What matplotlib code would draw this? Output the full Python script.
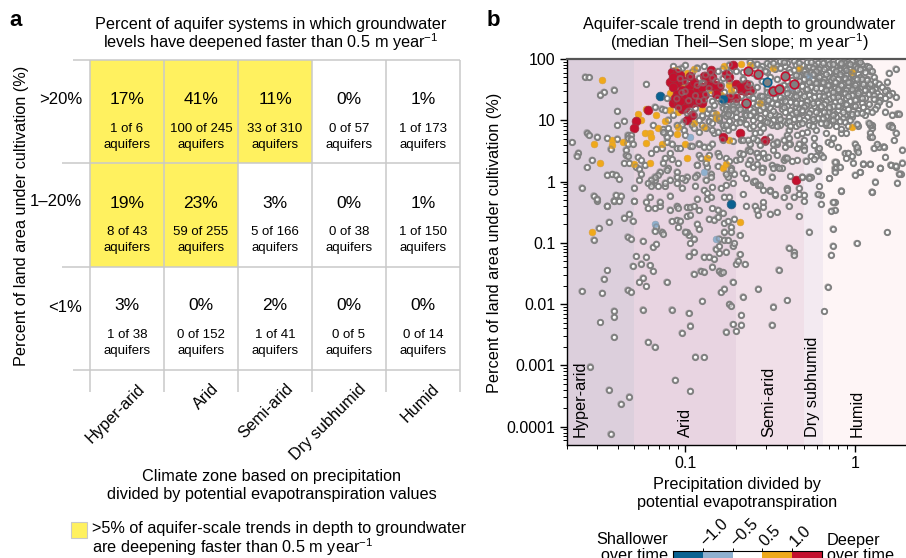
import numpy as np
import matplotlib
matplotlib.use("Agg")
import matplotlib.pyplot as plt
from matplotlib.colors import ListedColormap

plt.rcParams['font.family'] = ['Liberation Sans', 'DejaVu Sans']
plt.rcParams['mathtext.fontset'] = 'custom'
plt.rcParams['mathtext.rm'] = 'Liberation Sans'
plt.rcParams['mathtext.default'] = 'regular'

zones = ['Hyper-arid', 'Arid', 'Semi-arid', 'Dry subhumid', 'Humid']
rows = ['>20%', '1–20%', '<1%']
pct = [[17, 41, 11, 0, 1], [19, 23, 3, 0, 1], [3, 0, 2, 0, 0]]
deep = [[1, 100, 33, 0, 1], [8, 59, 5, 0, 1], [1, 0, 1, 0, 0]]
total = [[6, 245, 310, 57, 173], [43, 255, 166, 38, 150], [38, 152, 41, 5, 14]]

zone_edges = [0.02, 0.05, 0.2, 0.5, 0.65, 2.0]
zone_colors = ['#DCCFDC', '#E8D4E1', '#F0DFE8', '#F3EAF1', '#FEF5F6']
zone_label_x = [0.024, 0.1, 0.312, 0.566, 1.03]

gray_lx = [
 -1.51,-1.54,-1.45,-1.36,-1.33,-1.31,-1.34,-1.32,-1.46,-1.29,
 -1.31,-1.26,-1.23,-1.21,-1.19,-1.25,-1.19,-1.17,-1.46,-1.48,
 -1.61,-1.49,-1.34,-1.32,-1.27,-1.25,-1.23,-1.11,-1.25,-1.42,
 -1.42,-1.50,-1.42,-1.22,-1.18,-1.08,-0.98,-0.97,-1.02,-0.90,
 -0.94,-0.89,-1.56,-1.06,-0.97,-1.45,-1.33,-1.38,-1.44,-0.79,
 -0.77,-0.72,-0.66,-0.57,-0.40,-0.48,-0.74,-0.73,-0.67,-0.72,
 -0.67,-0.76,-0.70,-0.49,-0.18,-0.16,-0.27,-0.13,-0.13,-0.14,
 0.01,0.19,-0.39,-0.36,-0.36,-0.45,-0.95,-0.98,-0.89,-0.86,
 -0.83,-0.84,-0.91,-0.89,-0.95,-0.80,-0.79,-0.78,-0.70,-0.69,
 -0.68,-0.65,-0.76,-0.80,-0.82,-0.80,-0.72,-0.71,-0.97,-0.95,
 -0.98,-0.99,-1.00,-1.04,-0.92,-0.93,-1.08,-1.05,-1.03,-0.99,
 -0.97,-0.86,-0.83,-0.81,-0.77,-0.75,-0.78,-0.81,-0.77,-0.73,
 -0.73,-0.68,-0.71,-0.80,-0.77,-0.75,-1.17,-1.18,-1.14,-1.13,
 -1.22,-1.18,-1.15,-1.09,-1.05,-1.04,-0.99,-0.97,-0.95,-0.92,
 -0.84,-0.64,-0.59,-0.58,-0.57,-0.54,-0.54,-0.50,-0.46,-0.39,
 -0.33,-0.30,-0.20,-0.12,-0.12,-0.14,-1.30,-1.23,-1.15,-1.42,
 -1.52,
 -1.59,-1.57,-1.42,-1.48,-1.50,-1.23,-1.40,-1.36,-1.40,-1.58,
 -1.57,-1.52,-1.67,-1.63,-1.64,-1.55,-1.58,-1.46,-1.44,-1.40,
 -1.36,-1.33,-1.46,-1.43,-1.41,-1.39,-1.61,-1.54,-1.52,-1.41,
 -1.38,-1.42,-1.39,-1.46,-1.30,-1.30,-1.34,-1.32,-1.34,-1.32,
 -1.34,-1.31,-1.35,-1.35,-1.34,-1.28,-1.26,-1.29,-1.27,-1.26,
 -1.24,-1.20,-1.17,-1.14,
 -1.13,-1.10,-1.12,-1.09,-1.01,-1.00,-1.11,-1.08,-1.05,-1.03,
 -1.09,-1.12,-1.08,-1.13,-1.04,-0.97,-0.92,-0.89,-0.86,-0.83,
 -0.81,-0.77,-0.75,-0.67,-0.62,-0.63,-0.58,-0.53,-0.50,-0.46,
 -0.42,-0.38,-0.34,-0.30,-0.22,-0.26,-0.34,-0.42,-0.46,-0.54,
 -0.58,-0.68,-0.81,-0.86,-0.92,-0.91,-0.76,-0.70,-0.62,-0.49,
 -0.46,-0.43,-0.54,-0.60,-0.73,-0.81,-0.87,-0.93,-0.93,-0.99,
 -1.05,-1.10,-1.15,-1.20,-1.18,-1.16,-1.12,-1.09,-1.00,-0.85,
 -0.75,-0.71,-0.64,-0.57,-0.60,-0.50,-0.47,-0.40,-0.31,-0.27,
 -0.36,-0.30,-0.20,-0.13,-0.08,-0.15,-0.12,-0.11,0.00,0.03,
 0.05,0.09,0.15,0.21,0.24,0.27,0.25,0.12,0.10,0.28,
 0.14,0.17,0.01,-0.04,-0.06,0.09,0.10,0.10,0.21,0.22,
 0.25,0.22,
 -0.68,-0.66,-0.63,-0.62,-0.58,-0.57,-0.58,-0.53,-0.51,-0.48,
 -0.48,-0.46,-0.41,-0.39,-0.41,-0.40,-0.37,-0.33,-0.30,-0.24,
 -0.24,-0.30,-0.21,-0.20,-0.23,-0.24,-0.29,-0.19,-0.12,-0.11,
 -0.12,-0.22,-0.26,-0.31,-0.38,-0.27,-0.15,-0.49,-0.45,-0.48,
 -0.55,-0.55,-0.66,-0.59,0.03,0.05,0.09,0.15,0.21,0.24,
 0.26,0.28,-0.09,-0.04,-0.02,-0.01,-0.05,0.18,0.11,0.13,
 0.17,0.23,0.24,0.20,0.22,0.09,0.09,0.10,-0.16,-0.13,
 -0.14,-0.10,0.02,0.00,0.01,0.02,-0.08,-0.05,-0.17,-0.17,
 -0.31,-0.28,-0.23,-0.35,-0.34,-0.39,-0.40,-0.39,-0.46,-0.49,
 -0.56,-0.59,-0.60,-0.63,-0.66,-0.56,
 -1.02,-1.18,-1.14,-1.12,-1.11,-1.07,-0.92,-0.88,-0.84,-0.83,
 -0.87,-0.84,-0.74,-0.78,-0.74,-0.76,-0.76,-0.72,-0.78,-0.80,
 -0.88,-0.93,-1.00,-0.90,-0.92,-0.95,-0.86,-1.01,-0.99,-1.10,
 -1.19,-1.13,-1.11,-1.05,-0.96,-0.92,-0.84,-0.78,-0.72,-0.96,
 -0.92,-0.84,-0.93,-0.88,-0.80,-0.74,-0.76,-0.73,-0.85,-0.88,
 -0.94,-1.02,-1.05,-1.11,-1.18,-1.20,-1.27,
 -1.22,-1.20,-1.16,-1.12,-1.05,-1.02,-0.94,-0.89,-0.84,-0.79,
 -0.76,-0.72,-1.21,-1.09,-0.93,-0.87,-0.85,-0.87,-0.77,-0.74,
 -0.57,-0.56,-0.54,-0.50,-0.47,-0.40,-0.42,-0.33,-0.33,-0.21,
 -0.22,-0.08,0.10,-0.66,
 -0.62,-0.52,-0.44,-0.40,-0.36,-0.28,-0.22,-0.16,-0.10,-0.06,-0.02,0.02,
 -0.60,-0.55,-0.50,-0.46,-0.41,-0.35,-0.31,-0.27,-0.24,-0.20,-0.15,-0.12,-0.08,-0.04,0.00,0.04,0.07,
 -0.56,-0.44,-0.39,-0.33,-0.29,-0.25,-0.21,-0.17,-0.13,-0.09,-0.06,-0.03,0.01,0.05,0.09,0.24,
 -0.60,-0.52,-0.38,-0.31,-0.26,-0.22,-0.19,-0.15,-0.11,-0.07,-0.04,0.02,0.06,0.20,
 -0.58,-0.50,-0.33,-0.28,-0.24,-0.20,-0.16,-0.12,-0.08,-0.05,-0.01,0.03,0.07,0.11,
 -0.66,-0.55,-0.46,-0.37,-0.30,-0.25,-0.21,-0.18,-0.14,-0.10,-0.06,-0.02,0.04,0.07,0.12,0.19,
 -0.62,-0.42,-0.34,-0.28,-0.22,-0.19,-0.15,-0.11,-0.07,-0.03,0.01,0.05,0.10,0.14,
 -0.58,-0.52,-0.44,-0.38,-0.31,-0.26,-0.20,-0.16,-0.12,-0.08,-0.04,0.00,0.04,0.08,0.12,0.16,0.19,
 -0.60,-0.52,-0.41,-0.35,-0.29,-0.24,-0.18,-0.14,-0.09,-0.05,-0.01,0.03,0.06,0.10,0.13,0.18,0.22,
 -0.62,-0.56,-0.47,-0.38,-0.33,-0.27,-0.21,-0.16,-0.11,-0.07,-0.02,0.02,0.08,0.11,0.15,0.20,0.24,
 -0.60,-0.53,-0.47,-0.42,-0.36,-0.31,-0.26,-0.19,-0.15,-0.10,-0.05,0.01,0.06,0.11,0.15,0.18,
 -0.68,-0.60,-0.55,-0.49,-0.43,-0.38,-0.32,-0.28,-0.22,-0.17,-0.12,-0.07,-0.03,0.04,0.08,0.14,0.20,
 -0.72,-0.64,-0.58,-0.52,-0.46,-0.40,-0.35,-0.29,-0.24,-0.18,-0.13,-0.09,-0.05,-0.01,0.05,0.13,
 -0.76,-0.70,-0.62,-0.56,-0.50,-0.43,-0.38,-0.33,-0.26,-0.20,-0.15,-0.10,-0.04,0.02,0.07,0.12,0.18,
 -0.84,-0.77,-0.70,-0.65,-0.59,-0.53,-0.47,-0.41,-0.37,-0.31,-0.27,-0.21,-0.16,-0.12,-0.06,0.01,0.06,0.26,
 -0.90,-0.85,-0.76,-0.70,-0.64,-0.58,-0.51,-0.45,-0.39,-0.34,-0.28,-0.22,-0.17,-0.11,-0.07,-0.02,
 -0.92,-0.86,-0.80,-0.74,-0.66,-0.60,-0.53,-0.48,-0.42,-0.36,-0.30,-0.24,-0.19,-0.14,-0.06,-0.03,0.08,
 -1.02,-0.90,-0.84,-0.78,-0.70,-0.64,-0.56,-0.50,-0.44,-0.40,-0.33,-0.27,-0.20,-0.15,-0.04,0.01,
 -0.95,-0.88,-0.72,-0.62,-0.54,
 -0.58,-0.48,-0.42,-0.33,-0.26,-0.19,-0.13,-0.08,-0.03,0.03,0.08,
 -0.53,-0.47,-0.36,-0.30,-0.23,-0.18,-0.11,-0.05,-0.01,0.03,0.10,
 -0.41,-0.35,-0.29,-0.25,-0.21,-0.17,-0.13,-0.09,-0.06,-0.02,0.01,
 -0.52,-0.40,-0.33,-0.27,-0.23,-0.19,-0.16,-0.12,-0.08,-0.04,0.00,0.05,0.09,
 -0.48,-0.40,-0.34,-0.28,-0.23,-0.17,-0.13,-0.10,-0.06,-0.02,0.02,0.06,0.10,
 -0.55,-0.50,-0.44,-0.40,-0.35,-0.30,-0.24,-0.18,-0.13,-0.09,-0.04,0.00,0.04,
 -0.65,-0.57,-0.51,-0.46,-0.41,-0.35,-0.30,-0.25,-0.20,-0.15,-0.10,-0.05,0.00,
 -0.74,-0.66,-0.60,-0.54,-0.48,-0.42,-0.35,-0.31,-0.23,-0.18,-0.13,-0.07,-0.02,0.04,0.10,
 -0.80,-0.73,-0.67,-0.62,-0.56,-0.50,-0.44,-0.39,-0.33,-0.25,-0.19,-0.13,-0.09,
 -0.76,-0.68,-0.60,-0.52,-0.46,-0.38,-0.31,-0.25,-0.17,-0.11,-0.08,
 -1.07,-1.04,-1.00,-0.96,-0.93,-0.89,-0.85,-0.81,-0.78,-0.74,-0.70,-0.66,
 -1.03,-1.00,-0.97,-0.93,-0.89,-0.86,-0.82,-0.79,-0.75,-0.71,-0.66,-0.63,
 -1.05,-1.02,-0.98,-0.94,-0.89,-0.85,-0.81,-0.77,-0.73,-0.70,-0.67,-0.63,
 -1.04,-0.98,-0.94,-0.90,-0.86,-0.83,-0.79,-0.75,-0.72,-0.68,
]
gray_ly = [
 -0.76,-0.95,-0.66,-0.59,-0.53,-0.64,-0.90,-0.93,-0.40,-1.22,
 -1.38,-1.34,-1.23,-1.37,-1.46,-0.97,-1.07,-1.02,-1.45,-1.59,
 -1.79,-1.82,-1.77,-1.80,-1.64,-1.57,-1.71,-1.64,-2.09,-2.11,
 -2.21,-2.30,-2.54,-2.62,-2.70,-2.09,-2.15,-2.35,-2.47,-1.95,
 -2.86,-2.87,-3.02,-3.24,-3.42,-3.40,-3.51,-3.63,-4.12,-1.81,
 -1.75,-1.64,-1.88,-1.75,-1.94,-2.04,-2.00,-2.03,-2.18,-2.33,
 -2.34,-2.45,-2.44,-2.34,-2.12,-1.72,-0.82,-0.77,-1.05,-1.20,
 -1.01,-0.83,-1.08,-1.15,-1.20,-1.44,-1.15,-1.22,-1.23,-1.23,
 -1.26,-1.39,-1.46,-1.47,-1.51,-1.46,-1.49,-1.48,-1.35,-1.29,
 -1.19,-1.35,-1.15,-1.17,-1.10,-1.06,-1.05,-1.01,-1.01,-0.93,
 -0.88,-0.83,-0.82,-0.75,-0.77,-0.69,-0.65,-0.63,-0.64,-0.57,
 -0.54,-0.61,-0.62,-0.58,-0.68,-0.65,-0.51,-0.46,-0.82,-0.82,
 -0.74,-0.88,-0.61,-0.93,-0.95,-0.96,-0.74,-0.81,-0.82,-0.85,
 -0.44,-0.44,-0.40,-0.46,-0.40,-0.43,-0.42,-0.42,-0.40,-0.47,
 -0.44,-0.40,-0.40,-0.47,-0.54,-0.41,-0.34,-0.53,-0.50,-0.40,
 -0.57,-0.32,-0.37,-0.34,-0.46,-0.48,-0.32,-0.33,-0.33,-0.31,
 -0.31,
 1.71,1.70,1.50,1.46,1.42,1.59,1.15,0.99,0.92,0.80,
 0.76,0.73,0.64,0.47,0.42,0.35,0.23,0.71,0.53,0.70,
 0.30,0.30,0.11,0.12,0.11,0.04,-0.10,-0.23,-0.28,-0.22,
 -0.23,-0.31,-0.32,-0.40,-0.10,-0.32,0.76,0.76,0.71,0.70,
 0.62,0.62,0.52,0.43,0.41,0.40,0.35,0.24,0.21,0.13,
 0.27,0.46,0.53,0.54,
 0.85,0.87,0.79,0.79,0.84,0.76,0.65,0.62,0.54,0.54,
 0.46,0.38,0.36,0.31,0.30,0.58,0.62,0.57,0.57,0.79,
 0.81,0.87,0.84,0.68,0.62,0.52,0.68,0.65,0.73,0.62,
 0.68,0.62,0.54,0.57,0.52,0.41,0.35,0.35,0.43,0.46,
 0.46,0.46,0.46,0.43,0.43,0.38,0.38,0.35,0.35,0.27,
 0.24,0.22,0.22,0.24,0.22,0.25,0.24,0.27,0.11,0.08,
 0.08,0.22,0.16,-0.03,0.03,0.11,-0.08,0.03,0.03,0.13,
 0.08,0.13,0.05,-0.06,0.00,-0.14,-0.22,-0.11,0.08,0.08,
 -0.25,-0.22,-0.22,-0.34,-0.15,0.05,0.22,0.32,0.11,0.15,
 0.29,0.29,0.22,0.27,0.24,0.13,-0.02,0.00,-0.17,0.52,
 0.57,0.57,0.52,0.46,0.46,0.73,0.87,0.92,0.92,0.89,
 1.11,1.09,
 0.36,0.45,0.29,0.50,0.46,0.40,0.29,0.39,0.40,0.52,
 0.62,0.65,0.57,0.62,0.39,0.39,0.33,0.62,0.68,0.71,
 0.59,0.52,0.54,0.44,0.41,0.36,0.34,0.40,0.32,0.22,
 0.16,0.18,0.07,0.07,0.09,0.05,0.05,0.08,0.22,0.22,
 0.22,0.15,0.14,0.01,0.15,0.29,0.28,0.22,0.27,0.26,
 0.13,0.31,0.24,0.46,0.41,0.31,0.38,0.40,0.54,0.61,
 0.57,0.67,0.80,0.91,0.89,0.92,0.80,0.73,0.64,0.71,
 0.61,0.56,0.91,0.62,0.56,0.49,0.79,0.79,0.79,0.92,
 0.79,0.81,0.84,0.90,0.76,0.84,0.76,0.71,0.92,0.92,
 0.81,0.79,0.71,0.68,0.68,0.60,
 1.86,1.22,1.19,1.17,1.36,1.09,1.69,1.42,1.31,1.12,
 1.12,1.69,1.91,1.69,1.64,1.15,1.23,1.28,1.20,1.05,
 1.74,1.85,1.47,1.61,1.31,1.09,0.98,0.98,1.12,1.01,
 0.92,0.81,0.73,0.92,0.92,0.81,0.84,0.68,0.66,0.58,
 0.62,0.62,0.27,0.30,0.41,0.33,0.13,0.19,0.08,0.03,
 0.08,0.05,0.16,0.19,0.08,0.03,0.03,
 -0.03,-0.07,-0.08,-0.02,-0.03,-0.10,-0.07,-0.14,-0.09,-0.11,
 -0.06,-0.03,-0.25,-0.23,-0.28,-0.28,-0.25,-0.19,-0.25,-0.25,
 -0.05,-0.05,-0.14,-0.15,-0.21,-0.13,-0.26,-0.11,-0.21,-0.08,
 -0.21,-0.15,-0.17,-0.21,
 1.95,1.93,1.96,1.94,1.97,1.95,1.93,1.96,1.97,1.94,1.96,1.93,
 1.90,1.88,1.91,1.89,1.88,1.91,1.90,1.87,1.91,1.89,1.92,1.88,1.90,1.92,1.89,1.91,1.88,
 1.84,1.86,1.83,1.85,1.82,1.85,1.83,1.86,1.84,1.82,1.85,1.83,1.86,1.83,1.81,1.84,
 1.77,1.79,1.78,1.76,1.79,1.77,1.80,1.78,1.76,1.79,1.77,1.75,1.78,1.77,
 1.72,1.70,1.73,1.71,1.74,1.72,1.70,1.73,1.71,1.74,1.72,1.70,1.68,1.71,
 1.66,1.64,1.67,1.65,1.68,1.66,1.64,1.67,1.65,1.68,1.66,1.64,1.67,1.65,1.63,1.63,
 1.60,1.58,1.61,1.59,1.62,1.60,1.58,1.61,1.59,1.62,1.60,1.58,1.56,1.60,
 1.54,1.52,1.55,1.53,1.56,1.54,1.52,1.55,1.53,1.56,1.54,1.52,1.55,1.53,1.51,1.54,1.50,
 1.48,1.46,1.49,1.47,1.50,1.48,1.46,1.49,1.47,1.50,1.48,1.46,1.49,1.47,1.45,1.48,1.44,
 1.42,1.40,1.43,1.41,1.44,1.42,1.40,1.43,1.41,1.44,1.42,1.40,1.43,1.41,1.39,1.42,1.38,
 1.36,1.34,1.37,1.35,1.38,1.36,1.34,1.37,1.35,1.38,1.36,1.34,1.37,1.35,1.33,1.36,
 1.30,1.28,1.31,1.29,1.32,1.30,1.28,1.31,1.29,1.32,1.30,1.28,1.31,1.29,1.27,1.30,1.26,
 1.24,1.22,1.25,1.23,1.26,1.24,1.22,1.25,1.23,1.26,1.24,1.22,1.25,1.23,1.21,1.24,
 1.18,1.16,1.19,1.17,1.20,1.18,1.16,1.19,1.17,1.20,1.18,1.16,1.19,1.17,1.15,1.18,1.14,
 1.12,1.10,1.13,1.11,1.14,1.12,1.10,1.13,1.11,1.14,1.12,1.10,1.13,1.11,1.09,1.12,1.08,1.11,
 1.06,1.04,1.07,1.05,1.08,1.06,1.04,1.07,1.05,1.08,1.06,1.04,1.07,1.05,1.03,1.06,
 1.00,0.98,1.01,0.99,1.02,1.00,0.98,1.01,0.99,1.02,1.00,0.98,1.01,0.99,0.97,1.00,0.96,
 0.94,0.92,0.95,0.93,0.96,0.94,0.92,0.95,0.93,0.96,0.94,0.92,0.95,0.93,0.91,0.94,
 0.88,0.87,0.89,0.87,0.88,
 1.92,1.93,1.95,1.93,1.95,1.94,1.92,1.94,1.92,1.95,1.87,
 1.81,1.84,1.82,1.80,1.81,1.83,1.80,1.82,1.80,1.83,1.80,
 1.75,1.74,1.75,1.76,1.70,1.75,1.69,1.75,1.69,1.75,1.68,
 1.62,1.64,1.64,1.63,1.61,1.63,1.57,1.63,1.57,1.63,1.57,1.60,1.60,
 1.51,1.51,1.50,1.51,1.52,1.50,1.46,1.51,1.44,1.51,1.44,1.50,1.50,
 1.39,1.45,1.38,1.44,1.40,1.39,1.38,1.40,1.38,1.32,1.39,1.33,1.36,
 1.27,1.32,1.33,1.27,1.31,1.29,1.22,1.28,1.23,1.22,1.23,1.26,1.24,
 1.15,1.20,1.14,1.21,1.15,1.21,1.13,1.16,1.14,1.14,1.08,1.13,1.10,1.12,1.14,
 1.03,1.08,1.02,1.08,1.03,1.08,1.02,0.98,1.03,1.02,1.04,1.01,0.98,
 0.93,0.97,0.90,0.97,0.90,0.91,0.95,0.90,0.96,0.90,0.86,
 1.88,1.83,1.90,1.79,1.86,1.88,1.78,1.80,1.84,1.78,1.80,1.78,
 1.68,1.62,1.71,1.57,1.61,1.52,1.64,1.57,1.70,1.50,1.68,1.55,
 1.35,1.45,1.32,1.40,1.33,1.44,1.36,1.46,1.40,1.30,1.40,1.42,
 1.20,1.15,1.20,1.08,1.18,1.25,1.30,1.10,1.18,1.18,
]

orange_lx = [-1.55,-1.49,-1.54,-1.50,-1.43,-1.43,-1.37,-1.30,-1.21,-1.28,-1.26,-1.23,-1.17,-1.16,
             -1.24,-1.21,-1.20,-1.23,-1.14,-1.12,-1.05,-1.00,-0.99,-0.87,-0.78,-0.76,-0.82,-0.82,
             -1.04,-0.95,-0.89,-0.74,-0.68,
             -1.06,-0.95,-0.99,-0.77,-0.67,-0.62,-0.48,-0.33,-0.02,-0.02,-0.56,-0.74,-0.79,-0.73,
             -0.82,-1.02,-1.00,-0.90,-1.09,-1.09,-1.04,-0.95,-0.85]
orange_ly = [-0.82,1.65,0.62,0.31,0.67,0.60,0.65,0.28,0.30,1.10,1.00,1.19,1.09,0.87,
             0.80,0.79,0.72,0.63,0.62,0.98,0.77,0.62,0.39,0.39,0.22,0.29,1.11,1.03,
             0.89,0.95,0.89,0.68,-0.66,
             1.82,1.84,1.77,1.89,1.92,1.90,1.85,1.86,1.78,0.89,1.29,1.58,1.41,1.49,
             1.49,1.60,1.52,1.19,1.44,1.17,1.14,1.49,1.49]

red_lx = [-1.22,-1.29,-1.30,-1.08,-1.05,-1.03,-1.09,-1.05,-1.07,-1.05,-1.07,-1.04,-1.02,-1.00,
          -0.98,-0.95,-0.93,-0.96,-0.99,-0.96,-0.99,-0.90,-0.89,-0.92,-0.89,-0.87,-0.85,-0.87,
          -0.84,-0.80,-0.76,-0.72,-0.70,-0.64,-0.67,-0.65,-0.74,-0.70,
          -0.78,-0.68,-0.53,-0.35,
          -1.07,-1.02,-1.06,-1.00,-0.95,-0.93,-0.97,-0.84,-0.82,-0.74,-0.68,-0.62,-1.03,-1.02,-0.97,-0.90,-0.82]
red_ly = [1.17,0.98,0.87,1.78,1.77,1.74,1.62,1.61,1.55,1.43,1.28,1.25,1.19,1.37,
          1.56,1.63,1.49,1.28,1.28,1.09,1.00,1.29,1.41,1.39,1.73,1.70,1.82,1.58,
          1.56,1.55,1.75,1.91,1.60,1.60,1.49,1.47,1.36,1.36,
          0.72,0.79,0.67,0.02,
          1.70,1.65,1.37,1.20,1.40,1.30,1.72,1.70,1.58,1.70,1.55,1.50,1.32,1.50,1.45,1.55,1.43]
red_ring_lx = [-0.63,-0.57,-0.64,-0.48,-0.45,-0.41,-0.36]
red_ring_ly = [1.81,1.76,1.28,1.47,1.51,1.72,1.59]
blue_lx = [-1.15,-0.78,-0.73]
blue_ly = [1.40,1.35,-0.37]
blue_ring_lx = [-0.52]
blue_ring_ly = [1.63]
lblue_lx = [-0.37,-0.27,-0.97,-0.89,-1.18,-0.82]
lblue_ly = [1.55,1.73,0.72,0.16,-0.69,-0.93]

bar_ticks = ['−1.0', '−0.5', '0.5', '1.0']
bar_colors = ['#0B6291', '#8FB0CF', '#FFFFFF', '#EFA91B', '#C4102E']

W, H = 906, 558
FS = 11.7
fig = plt.figure(figsize=(W/100, H/100), dpi=100)
def fx(x): return x / W
def fy(y): return 1 - y / H
def T(x, y, s, **kw):
    kw.setdefault('ha', 'center'); kw.setdefault('va', 'center')
    kw.setdefault('fontsize', FS)
    return fig.text(fx(x), fy(y), s, **kw)

# panel a
GRID = '#C9C9C9'
ax = fig.add_axes([fx(90), fy(370), fx(460-90), fy(60)-fy(370)])
vals = np.array(pct, dtype=float)
ax.pcolormesh(np.arange(6), np.arange(4), (vals > 5).astype(float),
              cmap=ListedColormap(['#FFFFFF', '#FFF15F']), vmin=0, vmax=1)
ax.set_xlim(0, 5); ax.set_ylim(3, 0)
for s in ax.spines.values(): s.set_visible(False)
ax.set_xticks([]); ax.set_yticks([])
ax.patch.set_alpha(0)
for k in range(6):
    ax.plot([k, k], [0, 3.21], color=GRID, lw=1.1, clip_on=False, solid_capstyle='butt')
for k, x0 in zip(range(4), [-0.23, -0.385, -0.385, -0.23]):
    ax.plot([x0, 5], [k, k], color=GRID, lw=1.1, clip_on=False, solid_capstyle='butt')
for r in range(3):
    for c in range(5):
        ax.text(c + 0.5, r + 0.385 if r < 2 else r + 0.38, f'{pct[r][c]}%', ha='center', va='center', fontsize=12.5)
        ax.text(c + 0.5, r + 0.665, f'{deep[r][c]} of {total[r][c]}', ha='center', va='center', fontsize=9.5)
        ax.text(c + 0.5, r + 0.82, 'aquifers', ha='center', va='center', fontsize=9.5)
for label, y in zip(rows, [99, 201, 307]):
    T(82, y, label, ha='right', fontsize=12)
for z, x in zip(zones, [137, 211, 285, 358, 432]):
    T(x, 381, z, ha='right', va='top', rotation=45, rotation_mode='anchor')
T(271, 24, 'Percent of aquifer systems in which groundwater')
T(271, 42, 'levels have deepened faster than 0.5 m year$^{-1}$')
T(22, 216, 'Percent of land area under cultivation (%)', rotation=90)
T(272, 476, 'Climate zone based on precipitation')
T(272, 495, 'divided by potential evapotranspiration values')
T(92, 529, '>5% of aquifer-scale trends in depth to groundwater', ha='left')
T(92, 547, 'are deepening faster than 0.5 m year$^{-1}$', ha='left')
fig.patches.append(plt.Rectangle((fx(71), fy(537.5)), fx(15.5), fy(522.3)-fy(537.5),
                   transform=fig.transFigure, fc='#FFF15F', ec='#C9C9C9', lw=0.8))
T(16, 20, 'a', fontweight='bold', fontsize=16)
T(493, 20, 'b', fontweight='bold', fontsize=16)

# panel b
bx = fig.add_axes([fx(566.7), fy(445), fx(906-566.7), fy(59)-fy(445)])
bx.set_xscale('log'); bx.set_yscale('log')
bx.set_xlim(zone_edges[0], zone_edges[-1])
bx.set_ylim(10**(-4.3), 100)
for i, col in enumerate(zone_colors):
    bx.axvspan(zone_edges[i], zone_edges[i+1], color=col, lw=0, zorder=0)
GR = '#808080'
X = lambda a: 10.0 ** np.array(a)
RING = dict(s=15, linewidths=1.3)
bx.scatter(X(gray_lx), X(gray_ly), facecolor='white', edgecolor=GR, zorder=2, **RING)
bx.scatter(X(orange_lx), X(orange_ly), s=24, color='#EFA91B', edgecolor='#D9A040', linewidths=0.4, zorder=3)
bx.scatter(X(lblue_lx), X(lblue_ly), s=24, color='#8FB0CF', edgecolor='#8F9FB0', linewidths=0.4, zorder=3)
bx.scatter(X(red_lx), X(red_ly), s=40, color='#C4102E', edgecolor='#A0303F', linewidths=0.5, zorder=4)
bx.scatter(X(blue_lx), X(blue_ly), s=40, color='#0B6291', edgecolor='#2F5F80', linewidths=0.5, zorder=4)
bx.scatter(X(gray_lx), X(gray_ly), facecolor='none', edgecolor=GR, alpha=0.5, zorder=5, **RING)
bx.scatter(X(red_ring_lx), X(red_ring_ly), s=38, facecolor=GR, edgecolor='#C4102E', linewidths=1.2, zorder=6)
bx.scatter(X(blue_ring_lx), X(blue_ring_ly), s=38, facecolor=GR, edgecolor='#0B6291', linewidths=1.2, zorder=6)
bx.spines['right'].set_visible(False)
bx.spines['top'].set_color('#555555'); bx.spines['top'].set_linewidth(1.6)
for s in ['left', 'bottom']:
    bx.spines[s].set_linewidth(1.0)
bx.set_xticks([0.1, 1]); bx.set_xticklabels(['0.1', '1'])
bx.set_yticks([1e2, 1e1, 1, 1e-1, 1e-2, 1e-3, 1e-4])
bx.set_yticklabels(['100', '10', '1', '0.1', '0.01', '0.001', '0.0001'])
bx.yaxis.set_minor_locator(matplotlib.ticker.LogLocator(10, subs=np.arange(2, 10), numticks=10))
bx.xaxis.set_minor_locator(matplotlib.ticker.LogLocator(10, subs=np.arange(2, 10), numticks=10))
bx.yaxis.set_minor_formatter(matplotlib.ticker.NullFormatter())
bx.xaxis.set_minor_formatter(matplotlib.ticker.NullFormatter())
bx.tick_params(which='major', length=5, width=1, labelsize=11.5, pad=3)
bx.tick_params(which='minor', length=3, width=0.7)
for z, x in zip(zones, zone_label_x):
    bx.text(x, 0.000068, z, rotation=90, ha='center', va='bottom', fontsize=11.7, zorder=7)
T(739, 24, 'Aquifer-scale trend in depth to groundwater')
T(739, 42, '(median Theil–Sen slope; m year$^{-1}$)')
T(494, 243, 'Percent of land area under cultivation (%)', rotation=90)
T(737, 484, 'Precipitation divided by')
T(737, 503, 'potential evapotranspiration')

# colour key
cax = fig.add_axes([fx(673), fy(570), fx(822-673), fy(551)-fy(570)])
cax.pcolormesh(np.arange(6), [0, 1], np.arange(5)[None, :],
               cmap=ListedColormap(bar_colors), vmin=-0.5, vmax=4.5)
cax.set_yticks([])
cax.set_xticks([1, 2, 3, 4])
cax.set_xticklabels(bar_ticks, rotation=45, ha='left', va='center',
                    rotation_mode='anchor', fontsize=FS)
cax.xaxis.tick_top()
cax.tick_params(axis='x', length=2, width=0.7, pad=3)
for s in cax.spines.values(): s.set_linewidth(0.8)
T(668, 540, 'Shallower', ha='right')
T(668, 556, 'over time', ha='right')
T(827, 540, 'Deeper', ha='left')
T(827, 556, 'over time', ha='left')

fig.savefig('out.png', dpi=100)
